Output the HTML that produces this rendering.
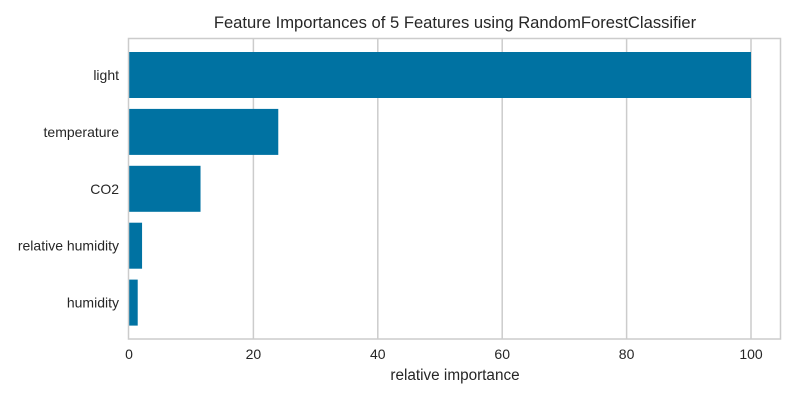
<!DOCTYPE html>
<html><head><meta charset="utf-8"><style>
body{margin:0;background:#fff;font-family:"Liberation Sans",sans-serif;}
</style></head><body>
<svg id="chart" width="800" height="400" xmlns="http://www.w3.org/2000/svg">
<rect width="800" height="400" fill="#fff"/>
<text x="455" y="28" text-anchor="middle" font-size="16.6" fill="#262626">Feature Importances of 5 Features using RandomForestClassifier</text>
<text x="455" y="380" text-anchor="middle" font-size="15.3" fill="#262626">relative importance</text>
<g id="grid"></g><g id="bars"></g><g id="labels"></g>
<rect x="128.5" y="38.5" width="652" height="300.5" fill="none" stroke="#cccccc" stroke-width="1.5"/>
</svg>
<script>
const categories=["light","temperature","CO2","relative humidity","humidity"];
const values=[100,24.0,11.5,2.1,1.4];
const ticks=[0,20,40,60,80,100];
const ns="http://www.w3.org/2000/svg";
const x0=129,pxPerUnit=6.22,top0=75,step=56.9,bh=46;
const xs=v=>x0+v*pxPerUnit;
const ys=i=>top0+i*step;
function mk(t,a){const e=document.createElementNS(ns,t);for(const k in a)e.setAttribute(k,a[k]);return e;}
const g=document.getElementById('grid');
ticks.forEach(t=>{
 if(t>0){const l=mk('line',{x1:xs(t),x2:xs(t),y1:38,y2:339,stroke:'#cccccc','stroke-width':1.5});
 
 
 g.appendChild(l);}
 const tx=mk('text',{x:xs(t),y:359,'text-anchor':'middle','font-size':14,fill:'#262626'});
 tx.textContent=t;
 
 
 g.appendChild(tx);
});
const b=document.getElementById('bars'),lb=document.getElementById('labels');
categories.forEach((c,i)=>{
 const r=mk('rect',{x:x0,y:ys(i)-bh/2,width:xs(values[i])-x0,height:bh,fill:'#0072a2'});
 
 
 b.appendChild(r);
 const t=mk('text',{x:119,y:ys(i)+5,'text-anchor':'end','font-size':14,fill:'#262626'});
 t.textContent=c;
 
 
 lb.appendChild(t);
});
</script>
</body></html>
